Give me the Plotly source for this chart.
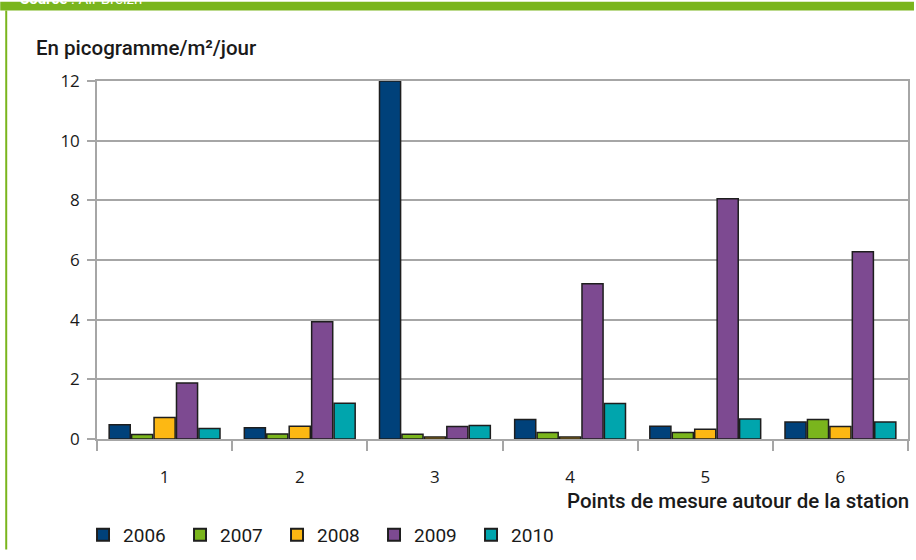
import plotly.graph_objects as go

categories = ["1", "2", "3", "4", "5", "6"]
years = ["2006", "2007", "2008", "2009", "2010"]
v2006 = [0.48, 0.38, 12.0, 0.65, 0.43, 0.57]
v2007 = [0.15, 0.17, 0.16, 0.22, 0.22, 0.65]
v2008 = [0.72, 0.43, 0.07, 0.07, 0.33, 0.42]
v2009 = [1.88, 3.93, 0.42, 5.20, 8.05, 6.28]
v2010 = [0.35, 1.20, 0.45, 1.19, 0.67, 0.57]
y_ticks = [0, 2, 4, 6, 8, 10, 12]
y_title = "En picogramme/m²/jour"
x_title = "Points de mesure autour de la station"
source_text = "<b>Source</b> : Air Breizh"

series = [v2006, v2007, v2008, v2009, v2010]
colors = ["#00417a", "#7ab51d", "#fdb813", "#7d4a91", "#00a5ad"]

W, H = 916, 560
L, R, T, B = 97, 910, 81, 447


def px_x(px):
    return (px - L) / (R - L)


def px_y(py):
    return (B - py) / (B - T)


fig = go.Figure()
for name, vals, col in zip(years, series, colors):
    fig.add_trace(go.Bar(
        x=categories, y=vals, name=name,
        marker=dict(color=col, line=dict(color="#1e1e1e", width=1.5)),
    ))

font_tick = "Open Sans, Noto Sans, DejaVu Sans, sans-serif"
font_cond = "Roboto, Open Sans, sans-serif"
green = "#7ab51d"

fig.update_layout(
    width=W, height=H,
    margin=dict(l=L, r=W - R, t=T, b=H - B, pad=0),
    paper_bgcolor="white", plot_bgcolor="white",
    barmode="group", bargap=0.17, bargroupgap=0.06,
    font=dict(family=font_tick, size=16, color="#1a1a1a"),
    showlegend=True,
    legend=dict(
        orientation="h", x=px_x(83), y=px_y(545), xanchor="left", yanchor="middle",
        font=dict(family=font_cond, size=19, color="#1a1a1a"),
        entrywidth=52, entrywidthmode="pixels",
        itemsizing="constant", traceorder="normal",
        bgcolor="rgba(0,0,0,0)",
    ),
    xaxis=dict(
        type="category", showgrid=False, showline=True, linecolor="#a6a6a6", linewidth=1.5,
        mirror=True, ticks="outside", tickson="boundaries", ticklen=10, tickcolor="#a6a6a6",
        tickwidth=1.5, ticklabelstandoff=22,
        tickfont=dict(family=font_tick, size=17, color="#1a1a1a"),
    ),
    yaxis=dict(
        range=[0, 12], tickvals=y_ticks, showgrid=True, gridcolor="#a6a6a6", gridwidth=1.5,
        showline=True, linecolor="#a6a6a6", linewidth=1.5, mirror=True,
        ticks="outside", ticklen=8, tickcolor="#a6a6a6", tickwidth=1.5,
        ticklabelstandoff=4, zeroline=False,
        tickfont=dict(family=font_tick, size=17, color="#1a1a1a"),
    ),
    shapes=[
        dict(type="rect", xref="paper", yref="paper", x0=px_x(0), x1=px_x(W), y0=px_y(0), y1=px_y(9),
             fillcolor=green, line=dict(width=0), layer="above"),
        dict(type="rect", xref="paper", yref="paper", x0=px_x(5), x1=px_x(7), y0=px_y(9), y1=px_y(H),
             fillcolor=green, line=dict(width=0), layer="above"),
    ],
    annotations=[
        dict(text=source_text, xref="paper", yref="paper", x=px_x(18), y=px_y(-3),
             xanchor="left", yanchor="middle", showarrow=False,
             font=dict(family=font_cond, size=15, color="white")),
        dict(text=y_title, xref="paper", yref="paper", x=px_x(34), y=px_y(47),
             xanchor="left", yanchor="middle", showarrow=False,
             font=dict(family=font_cond, size=20.5, color="#1a1a1a", weight=500)),
        dict(text=x_title, xref="paper", yref="paper", x=px_x(913), y=px_y(510),
             xanchor="right", yanchor="middle", showarrow=False,
             font=dict(family=font_cond, size=20.5, color="#1a1a1a", weight=500)),
    ],
)

fig.write_html(
    "out.html",
    config={"displayModeBar": False},
    post_script="document.body.style.margin='0';document.body.style.overflow='hidden';",
)
